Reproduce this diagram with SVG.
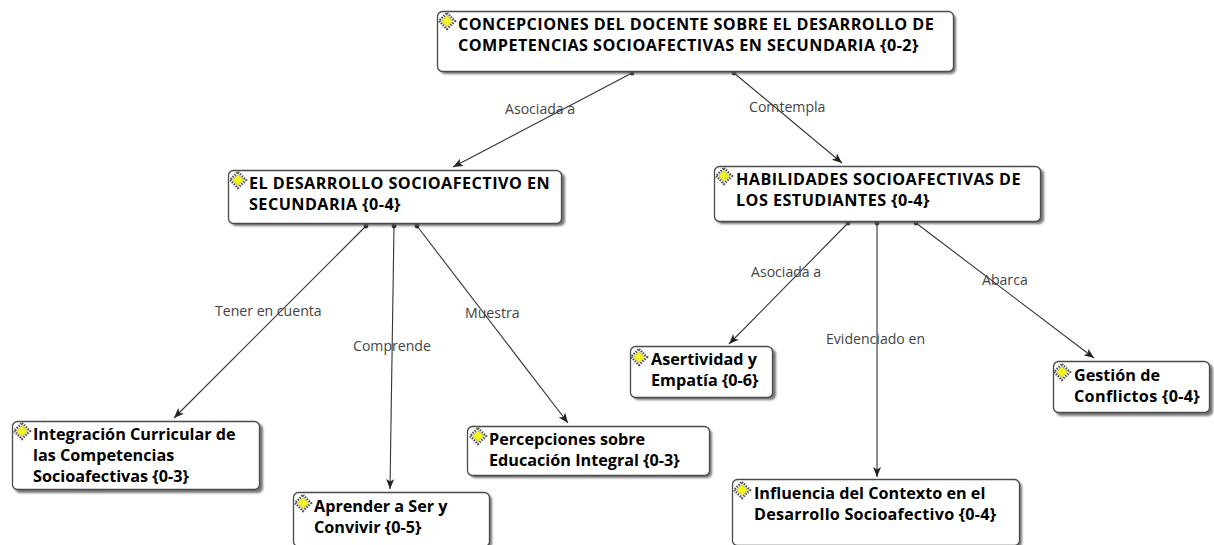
<svg xmlns="http://www.w3.org/2000/svg" width="1214" height="545" viewBox="0 0 1214 545">
<style>
.box{fill:#fff;stroke:#4a4a4a;stroke-width:1.3}
.sh{fill:#5f5f5f;opacity:.85;filter:url(#b)}
.t{font-family:"Open Sans","Noto Sans","Liberation Sans",sans-serif;font-weight:700;font-size:16.2px;fill:#000}
.u{letter-spacing:.45px}
.l{font-family:"Open Sans","Noto Sans","Liberation Sans",sans-serif;font-size:14.1px;fill:#444}
.c{stroke:#333;stroke-width:1.1;fill:none;marker-end:url(#a);marker-start:url(#d)}
</style>
<defs>
<filter id="b" x="-5%" y="-10%" width="110%" height="120%"><feGaussianBlur stdDeviation=".8"/></filter>
<marker id="a" markerUnits="userSpaceOnUse" markerWidth="12" markerHeight="10" refX="10" refY="4" orient="auto"><path d="M0 0L10 4L0 8L2.500 4Z" fill="#222"/></marker>
<marker id="d" markerUnits="userSpaceOnUse" markerWidth="6" markerHeight="6" refX="3" refY="3"><circle cx="3" cy="3" r="2.400" fill="#222"/></marker>
<g id="ic"><path d="M0-8L8 0L0 8L-8 0Z" fill="#fff" stroke="#555" stroke-width="2.400" stroke-dasharray="1.500 1.200"/><path d="M0-5.500L5.500 0L0 5.500L-5.500 0Z" fill="#f6f61c" stroke="#a0a040" stroke-width=".6"/></g>
</defs>
<g id="connectors">
<path class="c" d="M632 73L453 167"/>
<path class="c" d="M734 73L842 163"/>
<path class="c" d="M366 226L174 418"/>
<path class="c" d="M394 226L390 489"/>
<path class="c" d="M417 226L568 423"/>
<path class="c" d="M848 223L729 344"/>
<path class="c" d="M877 223L877 477"/>
<path class="c" d="M916 223L1094 358"/>
</g>
<g id="labels">
<text class="l" x="505" y="114">Asociada a</text>
<text class="l" x="749" y="112">Comtempla</text>
<text class="l" x="215" y="316">Tener en cuenta</text>
<text class="l" x="353" y="351">Comprende</text>
<text class="l" x="465" y="318">Muestra</text>
<text class="l" x="751" y="277">Asociada a</text>
<text class="l" x="826" y="344">Evidenciado en</text>
<text class="l" x="982" y="285">Abarca</text>
</g>
<g id="n1"><rect class="sh" x="440" y="14" width="516" height="60" rx="5"/><rect class="box" x="437.500" y="11.500" width="516" height="60" rx="5"/><use href="#ic" x="447" y="21"/><text class="t u" x="458" y="30">CONCEPCIONES DEL DOCENTE SOBRE EL DESARROLLO DE</text><text class="t u" x="458" y="51">COMPETENCIAS SOCIOAFECTIVAS EN SECUNDARIA {0-2}</text></g>
<g id="n2"><rect class="sh" x="231" y="173" width="334" height="53" rx="5"/><rect class="box" x="228.500" y="170.500" width="333" height="53" rx="5"/><use href="#ic" x="238" y="180"/><text class="t u" x="249" y="189">EL DESARROLLO SOCIOAFECTIVO EN</text><text class="t u" x="249" y="210">SECUNDARIA {0-4}</text></g>
<g id="n3"><rect class="sh" x="717" y="169" width="327" height="55" rx="5"/><rect class="box" x="714.500" y="166.500" width="326" height="55" rx="5"/><use href="#ic" x="724" y="176"/><text class="t u" x="736" y="185">HABILIDADES SOCIOAFECTIVAS DE</text><text class="t u" x="736" y="206">LOS ESTUDIANTES {0-4}</text></g>
<g id="n4"><rect class="sh" x="15" y="424" width="248" height="69" rx="5"/><rect class="box" x="12.500" y="421.500" width="247" height="68" rx="5"/><use href="#ic" x="22" y="431"/><text class="t" x="33" y="440">Integración Curricular de</text><text class="t" x="33" y="461">las Competencias</text><text class="t" x="33" y="482">Socioafectivas {0-3}</text></g>
<g id="n5"><rect class="sh" x="296" y="495" width="196" height="54" rx="5"/><rect class="box" x="293.500" y="492.500" width="196" height="54" rx="5"/><use href="#ic" x="303" y="503"/><text class="t" x="314" y="512">Aprender a Ser y</text><text class="t" x="314" y="533">Convivir {0-5}</text></g>
<g id="n6"><rect class="sh" x="470" y="429" width="242" height="49" rx="5"/><rect class="box" x="467.500" y="426.500" width="242" height="49" rx="5"/><use href="#ic" x="478" y="436"/><text class="t" x="489" y="445">Percepciones sobre</text><text class="t" x="489" y="466">Educación Integral {0-3}</text></g>
<g id="n7"><rect class="sh" x="633" y="349" width="143" height="51" rx="5"/><rect class="box" x="630.500" y="346.500" width="142" height="51" rx="5"/><use href="#ic" x="639" y="357"/><text class="t" x="651" y="365">Asertividad y</text><text class="t" x="651" y="386">Empatía {0-6}</text></g>
<g id="n8"><rect class="sh" x="735" y="482" width="287" height="66" rx="5"/><rect class="box" x="732.500" y="479.500" width="287" height="66" rx="5"/><use href="#ic" x="742" y="490"/><text class="t" x="754" y="499">Influencia del Contexto en el</text><text class="t" x="754" y="520" style="letter-spacing:.2px">Desarrollo Socioafectivo {0-4}</text></g>
<g id="n9"><rect class="sh" x="1056" y="364" width="157" height="52" rx="5"/><rect class="box" x="1053.500" y="361.500" width="156" height="51" rx="5"/><use href="#ic" x="1062" y="372"/><text class="t" x="1074" y="381">Gestión de</text><text class="t" x="1074" y="402" style="letter-spacing:.3px">Conflictos {0-4}</text></g>
</svg>
